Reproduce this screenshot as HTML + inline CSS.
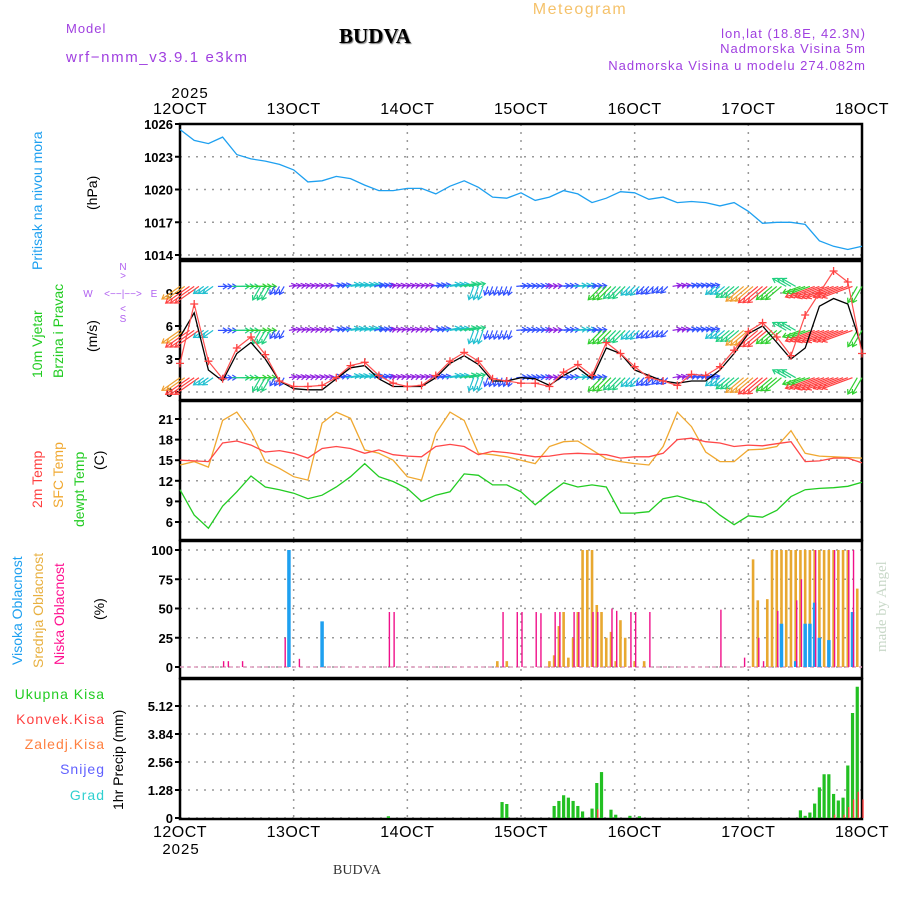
<!DOCTYPE html>
<html><head><meta charset="utf-8"><style>
html,body{margin:0;padding:0;background:#fff;}
svg{display:block;font-family:"Liberation Sans",sans-serif;}
</style></head><body>
<svg id="chart" width="900" height="900" viewBox="0 0 900 900" xmlns="http://www.w3.org/2000/svg">
<text x="580" y="14" font-size="16" fill="#f5c26b" text-anchor="middle" letter-spacing="1.5">Meteogram</text>
<text x="66" y="33" font-size="13" fill="#a040e0" letter-spacing="1">Model</text>
<text x="66" y="62" font-size="15" fill="#a040e0" letter-spacing="1.6">wrf−nmm_v3.9.1 e3km</text>
<text x="375" y="43" font-size="21" font-weight="bold" font-family="Liberation Serif,serif" text-anchor="middle" fill="#000" style="text-shadow:1px 1px 1px #777">BUDVA</text>
<text x="866" y="38" font-size="13" fill="#a040e0" text-anchor="end" letter-spacing="1">lon,lat (18.8E, 42.3N)</text>
<text x="866" y="53" font-size="13" fill="#a040e0" text-anchor="end" letter-spacing="1">Nadmorska Visina 5m</text>
<text x="866" y="70" font-size="13" fill="#a040e0" text-anchor="end" letter-spacing="1">Nadmorska Visina u modelu 274.082m</text>
<text x="190" y="98" font-size="15" text-anchor="middle" letter-spacing="1">2025</text>
<text x="181" y="854" font-size="15" text-anchor="middle" letter-spacing="1">2025</text>
<text x="357" y="874" font-size="14" font-family="Liberation Serif,serif" text-anchor="middle" fill="#333">BUDVA</text>
<text transform="translate(886,652) rotate(-90)" font-size="15" fill="#c8d8c8" font-family="Liberation Serif,serif">made by Angel</text>

<text transform="translate(42,270) rotate(-90)" font-size="14" fill="#1ea0f0">Pritisak na nivou mora</text>
<text transform="translate(97,210) rotate(-90)" font-size="14">(hPa)</text>

<text transform="translate(42,378) rotate(-90)" font-size="14" fill="#22cc22">10m Vjetar</text>
<text transform="translate(63,378) rotate(-90)" font-size="14" fill="#22cc22">Brzina i Pravac</text>
<text transform="translate(97,352) rotate(-90)" font-size="14">(m/s)</text>
<g fill="#b060f0" font-size="10" text-anchor="middle">
<text x="123" y="270">N</text><text x="123" y="279">&gt;</text>
<text x="88" y="297">W</text><text x="123" y="297">&lt;−−|−−&gt;</text><text x="154" y="297">E</text>
<text x="123" y="312">&lt;</text><text x="123" y="322">S</text></g>

<text transform="translate(42,508) rotate(-90)" font-size="14" fill="#ff4040">2m Temp</text>
<text transform="translate(63,508) rotate(-90)" font-size="14" fill="#f0a830">SFC Temp</text>
<text transform="translate(84,527) rotate(-90)" font-size="14" fill="#22cc22">dewpt Temp</text>
<text transform="translate(104,470) rotate(-90)" font-size="14">(C)</text>

<text transform="translate(22,665) rotate(-90)" font-size="14" fill="#1ea0f0">Visoka Oblacnost</text>
<text transform="translate(43,668) rotate(-90)" font-size="14" fill="#e8b040">Srednja Oblacnost</text>
<text transform="translate(64,665) rotate(-90)" font-size="14" fill="#ff1090">Niska Oblacnost</text>
<text transform="translate(104,620) rotate(-90)" font-size="14">(%)</text>

<g font-size="14" text-anchor="end" letter-spacing="1">
<text x="105" y="699" fill="#22cc22">Ukupna  Kisa</text>
<text x="105" y="724" fill="#ff4040">Konvek.Kisa</text>
<text x="105" y="749" fill="#ff8040">Zaledj.Kisa</text>
<text x="105" y="774" fill="#6060ff">Snijeg</text>
<text x="105" y="800" fill="#30d0d0">Grad</text>
</g>
<text transform="translate(123,810) rotate(-90)" font-size="14">1hr Precip (mm)</text>
<g id="plots"></g>
</svg>
<script>
// ---- data (3-hourly, hours 0..144 from 12 OCT 00z) ----
const dayLabels = ["12OCT","13OCT","14OCT","15OCT","16OCT","17OCT","18OCT"];
const pressure = [1025.5,1024.5,1024.2,1024.8,1023.2,1022.8,1022.6,1022.3,1021.8,1020.7,1020.8,1021.2,1021.0,1020.4,1019.9,1019.9,1020.1,1020.1,1019.6,1020.3,1020.8,1020.2,1019.3,1019.2,1019.7,1019.0,1019.3,1019.9,1019.6,1018.8,1019.2,1019.8,1019.7,1019.1,1019.3,1018.8,1018.9,1018.8,1018.5,1018.8,1018.0,1016.9,1017.0,1017.0,1016.8,1015.3,1014.8,1014.5,1014.8];
const windSpeed = [5,7.2,2,1,3.5,4.5,3,1,0.3,0.2,0.2,1.2,2.2,2.4,1.2,0.5,0.5,0.5,1.3,2.6,3.3,2.5,1,1,1.3,1.2,0.6,1.5,2.2,1.2,4,3.5,2,1.5,1,0.8,1,1,2,3.5,5.3,6,4.5,3,4,7.8,8.5,8,4];
const windGust = [2.6,8,2.8,1.2,4,5,3.4,1,0.5,0.5,0.6,1.3,2.4,2.7,1.5,0.8,0.5,0.6,1.5,2.8,3.6,2.8,1.2,1,0.8,0.8,0.5,1.8,2.5,1.5,4.5,3.5,2.3,1.3,1,0.6,1.6,1.5,2.3,3.8,5.5,6.3,5,3.3,7,9,11,10,3.5];
const windDir = [215,215,215,0,0,0,240,240,10,10,10,10,10,10,10,10,10,10,10,10,10,250,250,250,5,5,5,5,5,5,225,225,225,225,225,10,10,10,220,220,220,220,220,150,200,200,200,200,240];
const temp2m = [15.0,14.9,14.8,17.5,17.8,17.2,16.2,16.4,16.0,15.3,16.7,17.0,16.7,16.0,16.5,15.8,15.6,15.5,17.0,17.3,17.0,15.8,16.3,16.1,15.8,15.5,15.6,15.9,16.0,15.9,15.8,15.3,15.5,15.5,16.0,18.0,18.2,17.7,17.5,17.0,17.2,17.1,17.4,17.7,14.8,14.9,15.3,15.3,14.6];
const tempSfc = [14.3,14.8,14.0,20.8,22.0,19.2,14.8,13.8,12.6,12.1,20.4,22.0,21.1,16.5,16.0,15.0,12.6,12.1,18.9,22.0,20.8,16.0,15.8,15.5,15.0,14.5,17.0,17.7,17.8,16.5,15.2,14.8,14.5,14.3,17.0,22.0,19.9,16.2,14.8,14.8,16.5,16.6,17.0,19.3,16.0,15.6,15.5,15.4,15.3];
const dewpt = [10.7,7.0,5.1,8.3,10.4,12.7,11.1,10.7,10.2,9.4,9.9,11.1,12.6,14.5,12.6,11.9,10.9,9.0,9.9,10.4,13.0,12.8,11.4,11.4,10.4,8.5,10.2,11.7,11.1,11.4,11.1,7.3,7.3,7.5,9.4,9.8,9.2,8.7,7.0,5.6,6.9,6.7,7.7,9.7,10.7,10.9,11.0,11.2,11.8];
// clouds (hourly bars)
const highHours = [23,30,127,130,132,133,134,135,137,142];
const highVals  = [100,39,37,5,37,37,55,25,23,47];
const midHours = [67,69,78,79,80,81,82,83,84,85,86,87,88,89,90,91,92,93,94,96,98,121,122,124,125,126,127,128,129,130,131,132,133,134,135,136,137,138,139,140,141,143];
const midVals  = [5,5,5,10,35,47,8,25,47,100,100,100,53,47,25,30,5,40,25,5,5,92,57,58,100,100,100,100,100,100,100,100,100,100,100,100,100,100,100,100,100,67];
const lowHours = [9,10,13,22,25,44,45,68,71,72,75,76,79,80,83,84,87,88,91,92,95,96,99,114,119,122,123,126,130,131,134,138,141,142];
const lowVals  = [5,5,5,25,7,47,47,47,47,47,47,46,47,47,47,47,47,47,50,48,47,47,47,49,8,25,5,48,57,75,100,100,100,100];
// precipitation
const rainHours = [44,68,69,79,80,81,82,83,84,85,87,88,89,91,92,95,97,131,132,133,134,135,136,137,138,139,140,141,142,143];
const rainVals  = [0.08,0.73,0.64,0.55,0.78,1.04,0.93,0.78,0.55,0.3,0.43,1.6,2.1,0.38,0.15,0.1,0.08,0.35,0.1,0.25,0.66,1.4,2.0,2.0,1.1,0.8,0.93,2.4,4.8,6.0];
const convHours = [88,138,140,141,142,143,144];
const convVals  = [0.4,0.15,0.15,0.5,0.85,1.2,0.85];

const X0=180,X1=862,HOURS=144;
const xH = h => X0 + (X1-X0)*h/HOURS;
const xI = i => xH(i*3);
const panels = {
  p:{top:124,bot:259,y:v=>124+(1026-v)*(131/12),ticks:[1026,1023,1020,1017,1014],lab:v=>String(v)},
  w:{top:261,bot:400,y:v=>392-v*11,ticks:[0,3,6,9],lab:v=>String(v)},
  t:{top:401,bot:540,y:v=>419+(21-v)*(103/15),ticks:[6,9,12,15,18,21],lab:v=>String(v)},
  c:{top:541,bot:678,y:v=>667-v*1.17,ticks:[0,25,50,75,100],lab:v=>String(v)},
  r:{top:679,bot:819,y:v=>818-v*(112/5.12),ticks:[0,1.28,2.56,3.84,5.12],lab:v=>v===0?"0":v.toFixed(2)}
};
const NS="http://www.w3.org/2000/svg";
const root=document.getElementById('plots');
function mk(tag,attrs,parent){const e=document.createElementNS(NS,tag);for(const k in attrs)e.setAttribute(k,attrs[k]);(parent||root).appendChild(e);return e;}

for(const key in panels){
  const P=panels[key];
  const g=mk('g',{});
  
  
  for(let d=1;d<6;d++){
    const l=mk('line',{x1:xH(d*24),x2:xH(d*24),y1:P.top,y2:P.bot,stroke:'#999','stroke-dasharray':'2,6','stroke-width':1.5},g);
    
    
  }
  P.ticks.forEach(v=>{
    const y=P.y(v);
    const l=mk('line',{x1:X0,x2:X1,y1:y,y2:y,stroke:'#999','stroke-dasharray':'2,6','stroke-width':1.5},g);
    
    
    const tk=mk('line',{x1:X0-5,x2:X0,y1:y,y2:y,stroke:'#000','stroke-width':2},g);
    
    
    const t=mk('text',{x:X0-7,y:y+5,'font-size':13,'font-weight':'bold','text-anchor':'end'},g);
    t.textContent=P.lab(v);
    
    
  });
  const b=mk('rect',{x:X0,y:P.top,width:X1-X0,height:P.bot-P.top,fill:'none',stroke:'#000','stroke-width':2.5},g);
  
  
}
dayLabels.forEach((d,i)=>{
  const t=mk('text',{x:xH(i*24),y:114,'font-size':16,'text-anchor':'middle','letter-spacing':'0.5'});
  t.textContent=d;
  
  
  const b=mk('text',{x:xH(i*24),y:837,'font-size':16,'text-anchor':'middle','letter-spacing':'0.5'});
  b.textContent=d;
  
  
});
function line(arr,P,color,name,w){
  const pts=arr.map((v,i)=>xI(i).toFixed(1)+','+P.y(v).toFixed(1)).join(' ');
  const l=mk('polyline',{points:pts,fill:'none',stroke:color,'stroke-width':w||1.3});
  
  
}
line(pressure,panels.p,'#1ea0f0','pressure-line');
// wind arrows (each sample drawn as a small cluster for density)
function spdColor(s){return s<1?'#9020e0':s<2?'#3050ff':s<3?'#20c0d0':s<4?'#20d080':s<5?'#30d030':s<6?'#f0a030':'#ff4040';}
[9.6,5.6,1.3].forEach((row,ri)=>{
  windDir.forEach((d,i)=>{
    const s=windSpeed[i];const len=6+s*3.2;
    const c=spdColor(s);
    const g=mk('g',{stroke:c,'stroke-width':1.2,fill:'none'});
    
    
    [-4.7,0,4.7].forEach(dx=>{
      const x=xI(i)+dx,y=panels.w.y(row);
      if(x<X0||x>X1) return;
      const a=d*Math.PI/180;const ex=x+Math.cos(a)*len,ey=y-Math.sin(a)*len;
      mk('line',{x1:x,y1:y,x2:ex,y2:ey},g);
      const h1=a+Math.PI*0.82,h2=a-Math.PI*0.82;
      mk('polyline',{points:`${ex+Math.cos(h1)*5},${ey-Math.sin(h1)*5} ${ex},${ey} ${ex+Math.cos(h2)*5},${ey-Math.sin(h2)*5}`},g);
    });
  });
});
line(windSpeed,panels.w,'#000','wind-speed-line',1.3);
line(windGust,panels.w,'#ff5050','wind-gust-line',1.2);
windGust.forEach((v,i)=>{
  const x=xI(i),y=panels.w.y(v);
  const p=mk('path',{d:`M${x-4},${y}H${x+4}M${x},${y-4}V${y+4}`,stroke:'#ff4040','stroke-width':1.3});
  
  
});
line(tempSfc,panels.t,'#f0a830','sfc-temp-line');
line(temp2m,panels.t,'#ff4848','temp-2m-line');
line(dewpt,panels.t,'#22cc22','dewpoint-line');
// cloud baseline
const bl=mk('line',{x1:X0,x2:X1,y1:panels.c.y(0),y2:panels.c.y(0),stroke:'#e0a0c0','stroke-width':1.5,'stroke-dasharray':'4,3'});


function bars(hours,vals,P,color,w,off,name){
  hours.forEach((h,i)=>{
    const x=xH(h)+off,y=P.y(vals[i]);
    const r=mk('rect',{x:x-w/2,y:y,width:w,height:P.y(0)-y,fill:color});
    
    
  });
}
bars(midHours,midVals,panels.c,'#e8a830',2.6,0,'mid-cloud-bar');
bars(highHours,highVals,panels.c,'#1ea0f0',3.5,0,'high-cloud-bar');
bars(lowHours,lowVals,panels.c,'#f0108a',1.4,1,'low-cloud-bar');
bars(rainHours,rainVals,panels.r,'#22c022',3.2,0,'total-rain-bar');
bars(convHours,convVals,panels.r,'#ff4040',1.4,1,'convective-rain-bar');
</script>
</body></html>
